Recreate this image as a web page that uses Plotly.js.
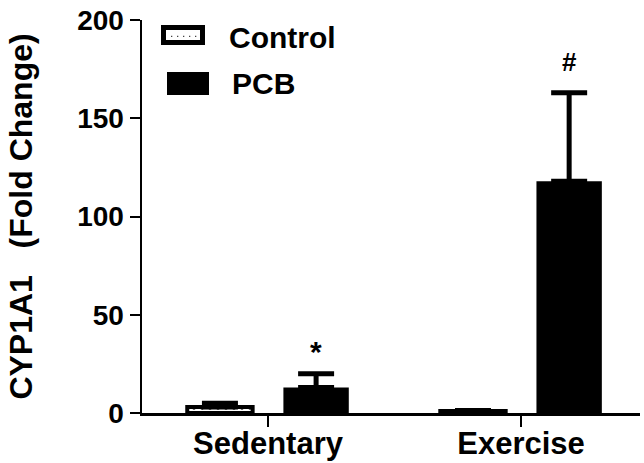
<!DOCTYPE html>
<html>
<head>
<meta charset="utf-8">
<script src="https://cdn.plot.ly/plotly-3.0.1.min.js"></script>
<style>
  html, body { margin: 0; padding: 0; background: #fff; }
  #chart { width: 644px; height: 463px; }
</style>
</head>
<body>
<div id="chart"></div>
<script>
// CYP1A1 expression, fold change vs. sedentary control
const groups = ['Sedentary', 'Exercise'];
const seriesNames = ['Control', 'PCB'];
const controlMean = [3, 1];
const controlErr = [2, 0.3];
const pcbMean = [13, 118];
const pcbErr = [7, 45];
const markers = ['*', '#'];          // significance marks above the PCB bars
const yTicks = [0, 50, 100, 150, 200];

const FONT = 'Liberation Sans, Arial, Helvetica, sans-serif';

const control = {
  type: 'bar', name: seriesNames[0], x: groups, y: controlMean,
  marker: {
    color: '#ffffff',
    line: { color: '#000', width: 4 },
    pattern: { shape: '.', fgcolor: '#000', bgcolor: '#fff', size: 8, solidity: 0.15 }
  },
  error_y: { type: 'data', symmetric: false, array: controlErr, arrayminus: [0, 0],
             color: '#000', thickness: 5, width: 18 },
  showlegend: false, hoverinfo: 'skip'
};

const pcb = {
  type: 'bar', name: seriesNames[1], x: groups, y: pcbMean,
  marker: { color: '#000', line: { color: '#000', width: 0 } },
  error_y: { type: 'data', symmetric: false, array: pcbErr, arrayminus: [0, 0],
             color: '#000', thickness: 5, width: 18 },
  showlegend: false, hoverinfo: 'skip'
};

// significance marks, anchored to the top of each PCB error bar
const sigAnnotations = groups.map((g, i) => ({
  x: i + 0.19, y: pcbMean[i] + pcbErr[i], xref: 'x', yref: 'y',
  text: '<b>' + markers[i] + '</b>', showarrow: false,
  yanchor: 'bottom', yshift: i === 0 ? 4 : 14,
  font: { family: FONT, size: i === 0 ? 30 : 26, color: '#000' }
}));

// hand-built legend: wide swatches with labels
const legendShapes = [
  { type: 'rect', xref: 'paper', yref: 'paper',
    x0: (163.5 - 142) / 498, x1: (202.5 - 142) / 498,
    y0: (413 - 42.5) / 393, y1: (413 - 27.5) / 393,
    line: { color: '#000', width: 5 }, fillcolor: '#fff' },
  { type: 'rect', xref: 'paper', yref: 'paper',
    x0: (167 - 142) / 498, x1: (209 - 142) / 498,
    y0: (413 - 95) / 393, y1: (413 - 72) / 393,
    line: { color: '#000', width: 0 }, fillcolor: '#000' }
];
// dotted fill inside the Control swatch
for (let k = 0; k < 5; k++) {
  const px = 171 + k * 6;
  legendShapes.push({ type: 'rect', xref: 'paper', yref: 'paper',
    x0: (px - 142) / 498, x1: (px + 1.3 - 142) / 498,
    y0: (413 - 37) / 393, y1: (413 - 35.7) / 393,
    line: { width: 0 }, fillcolor: '#444' });
}

const legendLabels = [
  { text: seriesNames[0], x: (227 - 142) / 498, y: (413 - 38) / 393 },
  { text: seriesNames[1], x: (230 - 142) / 498, y: (413 - 83) / 393 }
].map(o => ({
  x: o.x, y: o.y, xref: 'paper', yref: 'paper', xanchor: 'left', yanchor: 'middle',
  text: '<b>' + o.text + '</b>', showarrow: false,
  font: { family: FONT, size: 30, color: '#000' }
}));

const layout = {
  width: 644, height: 463,
  margin: { l: 142, r: 4, t: 20, b: 50 },
  paper_bgcolor: '#fff', plot_bgcolor: '#fff',
  barmode: 'group', bargap: 0.24, bargroupgap: 0.32,
  font: { family: FONT, color: '#000' },
  xaxis: {
    type: 'category', range: [-0.498, 1.47],
    showline: true, linecolor: '#000', linewidth: 2.5,
    ticks: 'outside', ticklen: 11, tickwidth: 2, tickcolor: '#000',
    ticklabelstandoff: -10,
    showgrid: false, zeroline: false,
    tickfont: { family: FONT, size: 31, color: '#000', weight: 'bold' },
    fixedrange: true
  },
  yaxis: {
    range: [0, 200], tickvals: yTicks,
    showline: true, linecolor: '#000', linewidth: 2.5,
    ticks: 'outside', ticklen: 10, tickwidth: 2, tickcolor: '#000',
    showgrid: false, zeroline: false,
    tickfont: { family: FONT, size: 28, color: '#000', weight: 'bold' },
    title: { text: '<b>CYP1A1   (Fold Change)</b>', standoff: 35,
             font: { family: FONT, size: 32, color: '#000' } },
    fixedrange: true
  },
  shapes: legendShapes,
  annotations: sigAnnotations.concat(legendLabels),
  showlegend: false
};

Plotly.newPlot('chart', [control, pcb], layout, { staticPlot: true, displayModeBar: false });
</script>
</body>
</html>
